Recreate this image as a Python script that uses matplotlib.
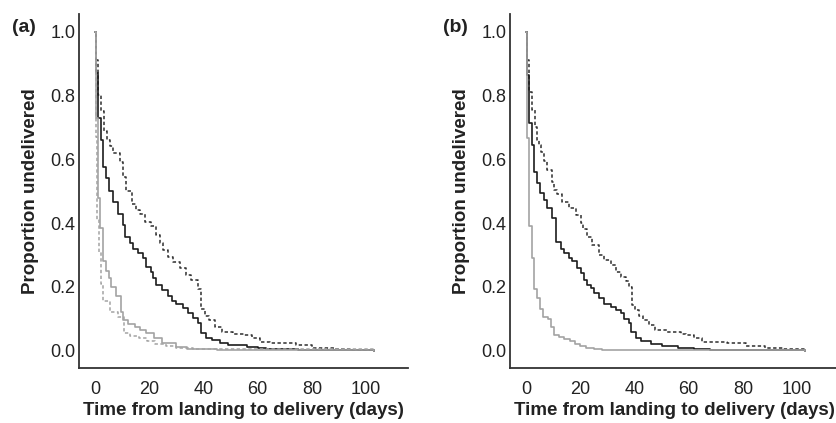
import matplotlib
matplotlib.use("Agg")
import matplotlib.pyplot as plt

plt.rcParams['font.family'] = ['Liberation Sans', 'DejaVu Sans']

# ---------------- Panel (a) ----------------
a_black_solid_t = [0, 0.2, 1.2, 2.0, 3.0, 4.0, 5.0, 6.6, 8.5, 10.3, 10.9, 12.8, 14.0, 15.9, 17.7, 18.9, 20.5,
                   21.4, 22.6, 24.5, 26.9, 28.5, 30.0, 32.5, 34.3, 36.2, 38.0, 39.0, 41.0, 43.0, 46.0, 49.0,
                   56.0, 60.0, 63.0, 75.0, 103.0]
a_black_solid_s = [1.0, 0.87, 0.73, 0.66, 0.575, 0.54, 0.50, 0.467, 0.43, 0.394, 0.357, 0.337, 0.32, 0.306, 0.29,
                   0.263, 0.248, 0.228, 0.207, 0.19, 0.17, 0.155, 0.145, 0.135, 0.118, 0.103, 0.087, 0.055, 0.04,
                   0.033, 0.025, 0.018, 0.013, 0.008, 0.004, 0.002, 0.0]

a_black_dot_t = [0, 0.2, 1.1, 2.3, 3.3, 4.2, 5.4, 6.6, 9.1, 10.3, 11.5, 13.4, 15.0, 16.4, 18.5, 20.7, 22.6, 23.9,
                 25.1, 26.9, 28.7, 31.2, 33.6, 35.5, 37.9, 38.9, 40.5, 42.0, 44.3, 46.8, 51.0, 55.0, 58.0, 61.0,
                 64.7, 74.0, 80.0, 88.0, 95.0, 103.0]
a_black_dot_s = [1.0, 0.91, 0.80, 0.75, 0.687, 0.66, 0.64, 0.62, 0.59, 0.545, 0.50, 0.46, 0.44, 0.43, 0.404, 0.39,
                 0.363, 0.337, 0.316, 0.295, 0.279, 0.258, 0.237, 0.221, 0.195, 0.13, 0.11, 0.096, 0.075, 0.06,
                 0.054, 0.05, 0.039, 0.028, 0.023, 0.018, 0.01, 0.005, 0.002, 0.0]

a_grey_solid_t = [0, 0.3, 1.0, 1.8, 3.0, 4.0, 5.0, 6.0, 7.7, 9.6, 10.2, 12.0, 14.5, 16.5, 18.8, 21.8, 24.8, 29.8,
                  34.0, 38.4, 45.0, 103.0]
a_grey_solid_s = [1.0, 0.73, 0.48, 0.385, 0.28, 0.25, 0.228, 0.20, 0.17, 0.122, 0.096, 0.085, 0.075, 0.065, 0.055,
                  0.04, 0.023, 0.0125, 0.007, 0.004, 0.001, 0.0]

a_grey_dot_t = [0, 0.1, 0.7, 1.4, 2.2, 3.0, 5.5, 8.5, 10.6, 13.0, 16.0, 19.0, 22.0, 26.0, 30.0, 36.0, 103.0]
a_grey_dot_s = [1.0, 0.67, 0.41, 0.31, 0.21, 0.155, 0.12, 0.105, 0.055, 0.047, 0.04, 0.03, 0.022, 0.015, 0.01,
                0.004, 0.0]

# ---------------- Panel (b) ----------------
b_black_solid_t = [0, 0.2, 1.2, 2.0, 2.7, 4.0, 5.0, 6.5, 7.8, 9.6, 10.9, 12.7, 14.0, 15.8, 17.0, 18.9, 20.1, 21.4,
                   22.6, 23.8, 25.1, 26.9, 28.8, 31.2, 33.1, 35.0, 36.2, 38.0, 38.8, 40.5, 42.5, 46.0, 50.0, 56.0,
                   62.0, 68.0, 103.0]
b_black_solid_s = [1.0, 0.865, 0.715, 0.645, 0.56, 0.525, 0.495, 0.472, 0.446, 0.415, 0.342, 0.32, 0.305, 0.29,
                   0.28, 0.26, 0.243, 0.222, 0.207, 0.196, 0.18, 0.164, 0.148, 0.138, 0.128, 0.117, 0.101, 0.086,
                   0.06, 0.04, 0.03, 0.02, 0.015, 0.01, 0.005, 0.002, 0.0]

b_black_dot_t = [0, 0.4, 1.2, 2.2, 3.2, 3.8, 4.1, 4.7, 5.3, 6.5, 7.8, 9.6, 10.3, 11.5, 13.3, 15.8, 18.3, 20.1,
                 20.8, 22.6, 24.4, 26.9, 28.8, 31.2, 33.1, 35.0, 36.8, 38.0, 39.0, 40.0, 41.5, 43.0, 45.3, 47.6,
                 52.0, 57.0, 59.0, 62.0, 65.0, 74.0, 81.0, 88.0, 95.0, 103.0]
b_black_dot_s = [1.0, 0.91, 0.81, 0.755, 0.70, 0.68, 0.66, 0.645, 0.624, 0.595, 0.566, 0.53, 0.503, 0.49, 0.467,
                 0.446, 0.425, 0.40, 0.38, 0.357, 0.331, 0.30, 0.284, 0.269, 0.248, 0.232, 0.217, 0.20, 0.143,
                 0.128, 0.11, 0.096, 0.08, 0.065, 0.058, 0.054, 0.05, 0.04, 0.028, 0.023, 0.015, 0.008, 0.004, 0.0]

b_grey_solid_t = [0, 0.4, 1.2, 2.2, 3.0, 4.0, 5.0, 6.3, 8.0, 9.3, 10.2, 12.0, 14.0, 16.0, 18.0, 20.0, 22.0, 25.0,
                  28.0, 32.0, 103.0]
b_grey_solid_s = [1.0, 0.665, 0.39, 0.29, 0.195, 0.165, 0.13, 0.105, 0.10, 0.075, 0.048, 0.042, 0.036, 0.03,
                  0.022, 0.015, 0.01, 0.006, 0.003, 0.001, 0.0]

x_ticks = [0, 20, 40, 60, 80, 100]
y_ticks = [0.0, 0.2, 0.4, 0.6, 0.8, 1.0]
x_label = "Time from landing to delivery (days)"
y_label = "Proportion undelivered"
panel_labels = ["(a)", "(b)"]

BLACK = "#1c1c1c"
DARK = "#2e2e2e"
GREY = "#a3a3a3"
DOT = (0, (2.2, 1.6))

fig = plt.figure(figsize=(8.36, 4.23), dpi=100)
W = 329 / 836
axA = fig.add_axes([79 / 836, 1 - 368 / 423, W, 354 / 423])
axB = fig.add_axes([510 / 836, 1 - 368 / 423, W, 354 / 423])

def style(ax):
    ax.set_xlim(-6.0, 115.5)
    ax.set_ylim(-0.054, 1.055)
    for s in ["top", "right"]:
        ax.spines[s].set_visible(False)
    for s in ["left", "bottom"]:
        ax.spines[s].set_color("#333333")
        ax.spines[s].set_linewidth(1.3)
    ax.set_xticks(x_ticks)
    ax.set_yticks(y_ticks)
    ax.set_yticklabels([f"{v:.1f}" for v in y_ticks])
    ax.tick_params(axis="both", direction="out", length=0, labelsize=13, labelcolor="#222222")
    ax.tick_params(axis="x", pad=9)
    ax.tick_params(axis="y", pad=2.5)
    ax.set_xlabel(x_label, fontsize=13.5, fontweight="bold", color="#222222", labelpad=3)
    ax.set_ylabel(y_label, fontsize=13.5, fontweight="bold", color="#222222", labelpad=8)

# Panel (a)
axA.step(a_black_dot_t, a_black_dot_s, where="post", color=DARK, lw=1.1, linestyle=DOT, zorder=2)
axA.step(a_black_solid_t, a_black_solid_s, where="post", color=BLACK, lw=1.2, zorder=2)
axA.step(a_grey_dot_t, a_grey_dot_s, where="post", color=GREY, lw=1.1, linestyle=DOT, zorder=3)
axA.step(a_grey_solid_t, a_grey_solid_s, where="post", color=GREY, lw=1.2, zorder=3)
style(axA)

# Panel (b)
axB.step(b_black_dot_t, b_black_dot_s, where="post", color=DARK, lw=1.1, linestyle=DOT, zorder=2)
axB.step(b_black_solid_t, b_black_solid_s, where="post", color=BLACK, lw=1.2, zorder=2)
axB.step(b_grey_solid_t, b_grey_solid_s, where="post", color=GREY, lw=1.2, zorder=3)
style(axB)

fig.text(12 / 836, 1 - 27 / 423, panel_labels[0], fontsize=14, fontweight="bold", color="#222222",
         ha="left", va="center")
fig.text(443 / 836, 1 - 27 / 423, panel_labels[1], fontsize=14, fontweight="bold", color="#222222",
         ha="left", va="center")

fig.savefig("out.png", dpi=100)
